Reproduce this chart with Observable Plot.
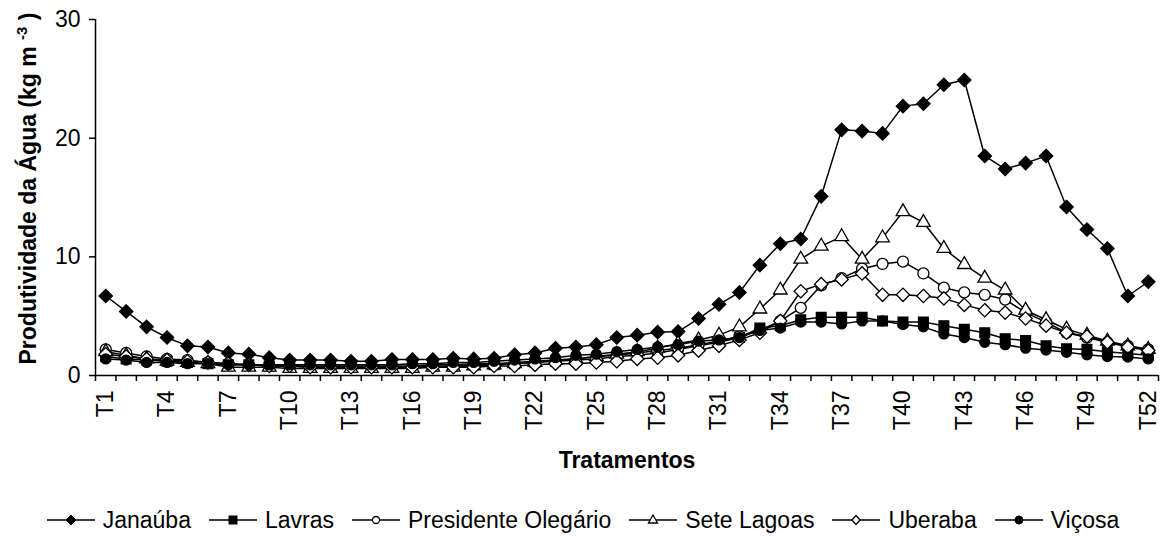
<!DOCTYPE html>
<html>
<head>
<meta charset="utf-8">
<script src="https://cdn.jsdelivr.net/npm/d3@7"></script>
<script src="https://cdn.jsdelivr.net/npm/@observablehq/plot@0.6"></script>
<style>
  html, body { margin: 0; padding: 0; background: #fff; }
  body { width: 1162px; height: 536px; overflow: hidden; font-family: "Liberation Sans", Arial, sans-serif; }
  #legend { display: flex; justify-content: center; align-items: center; height: 30px; margin-top: 15px; padding-left: 4px;
    font-size: 23px; color: #000; white-space: nowrap; }
  .item { display: flex; align-items: center; margin: 0 9px; }
  .item svg { margin-right: 8px; }
</style>
</head>
<body>
<div id="chart"></div>
<div id="legend"></div>
<script>
const categories = ["T1","T2","T3","T4","T5","T6","T7","T8","T9","T10","T11","T12","T13","T14","T15","T16","T17","T18","T19","T20","T21","T22","T23","T24","T25","T26","T27","T28","T29","T30","T31","T32","T33","T34","T35","T36","T37","T38","T39","T40","T41","T42","T43","T44","T45","T46","T47","T48","T49","T50","T51","T52"];
const tickLabels = ["T1","T4","T7","T10","T13","T16","T19","T22","T25","T28","T31","T34","T37","T40","T43","T46","T49","T52"];
const yTicks = [0, 10, 20, 30];

const janauba = [6.7,5.4,4.1,3.2,2.5,2.4,1.9,1.8,1.5,1.3, 1.3,1.3,1.2,1.2,1.35,1.35,1.35,1.45,1.4,1.45, 1.75,1.9,2.3,2.4,2.6,3.2,3.4,3.65,3.7,4.8, 6.0,7.0,9.3,11.1,11.5,15.1,20.7,20.6,20.4,22.7, 22.9,24.5,24.9,18.5,17.4,17.9,18.5,14.2,12.3,10.7, 6.7,7.9];
const lavras = [1.6,1.4,1.3,1.2,1.1,1.0,0.9,0.9,0.8,0.8, 0.7,0.7,0.7,0.7,0.7,0.7,0.8,0.8,0.9,0.9, 1.0,1.1,1.2,1.3,1.4,1.6,1.7,1.9,2.2,2.5, 2.8,3.2,4.0,4.2,4.7,4.9,4.9,4.9,4.6,4.5, 4.5,4.2,3.9,3.6,3.1,2.95,2.5,2.25,2.2,2.0, 1.85,1.7];
const presidenteOlegario = [2.2,1.9,1.6,1.4,1.3,1.1,1.0,0.9,0.9,0.8, 0.8,0.8,0.8,0.8,0.8,0.8,0.9,0.9,1.0,1.0, 1.1,1.2,1.3,1.4,1.6,1.7,1.9,2.1,2.3,2.6, 2.9,3.3,3.8,4.6,5.7,7.6,8.2,9.0,9.4,9.6, 8.6,7.4,7.0,6.8,6.4,5.3,4.5,3.6,3.2,2.8, 2.5,2.2];
const seteLagoas = [2.0,1.7,1.4,1.2,1.1,1.0,0.7,0.7,0.7,0.6, 0.6,0.6,0.6,0.6,0.6,0.6,0.7,0.7,0.8,0.9, 1.0,1.1,1.3,1.4,1.6,1.8,2.0,2.3,2.7,3.0, 3.4,4.1,5.6,7.2,9.8,10.9,11.7,9.8,11.6,13.8, 12.9,10.7,9.35,8.2,7.2,5.5,4.7,3.9,3.4,2.9, 2.5,2.2];
const uberaba = [1.8,1.6,1.4,1.3,1.2,1.1,1.0,0.9,0.8,0.8, 0.7,0.7,0.7,0.7,0.7,0.7,0.7,0.7,0.7,0.8, 0.8,0.9,1.0,1.0,1.1,1.2,1.4,1.5,1.7,2.1, 2.5,3.0,3.6,4.6,7.1,7.7,8.1,8.6,6.8,6.8, 6.7,6.5,5.95,5.5,5.3,4.8,4.2,3.6,3.3,2.8, 2.4,2.1];
const vicosa = [1.4,1.3,1.1,1.1,1.0,1.0,0.9,0.9,0.9,0.9, 0.9,0.9,0.9,0.9,0.9,1.0,1.0,1.1,1.1,1.2, 1.3,1.4,1.5,1.7,1.8,2.0,2.2,2.4,2.6,2.9, 3.0,3.2,3.8,4.0,4.5,4.5,4.35,4.6,4.6,4.3, 4.1,3.5,3.2,2.8,2.6,2.3,2.15,1.95,1.75,1.6, 1.55,1.4];

const series = [
  {name: "Janaúba", values: janauba, symbol: "diamond2", fill: "black", r: 6},
  {name: "Lavras", values: lavras, symbol: "square", fill: "black", r: 5.5},
  {name: "Presidente Olegário", values: presidenteOlegario, symbol: "circle", fill: "white", r: 5.5},
  {name: "Sete Lagoas", values: seteLagoas, symbol: "triangle2", fill: "white", r: 6.5},
  {name: "Uberaba", values: uberaba, symbol: "diamond2", fill: "white", r: 6},
  {name: "Viçosa", values: vicosa, symbol: "circle", fill: "black", r: 5}
];

const pos = c => categories.indexOf(c) + 1;
const n = categories.length;
const boundaries = d3.range(0, n + 1).map(k => k + 0.5);

const marks = [];
for (const s of series) {
  const data = categories.map((c, i) => ({cat: c, x: pos(c), y: s.values[i]}));
  marks.push(Plot.line(data, {x: "x", y: "y", stroke: "black", strokeWidth: 1.5}));
  marks.push(Plot.dot(data, {x: "x", y: "y", symbol: () => s.symbol, r: s.r, fill: s.fill, stroke: "black", strokeWidth: 1.3}));
}

const FS = 23;
const chart = Plot.plot({
  width: 1162,
  height: 490,
  marginLeft: 95,
  marginRight: 4,
  marginTop: 19,
  marginBottom: 115,
  style: {fontFamily: "'Liberation Sans', Arial, sans-serif", fontSize: FS + "px", background: "white", color: "black", overflow: "visible"},
  x: {type: "linear", domain: [0.5, n + 0.5]},
  y: {domain: [0, 30]},
  symbol: {type: "identity"},
  marks: [
    Plot.axisY({ticks: yTicks, tickSize: 6, tickPadding: 9, fontSize: FS, label: null, strokeWidth: 1.5}),
    Plot.axisX({ticks: boundaries, tickSize: 6, tickFormat: () => "", label: null, strokeWidth: 1.5}),
    Plot.axisX({ticks: tickLabels.map(pos), tickSize: 0, tickPadding: 15, tickRotate: -90, tickFormat: i => categories[i - 1], fontSize: FS, label: null}),
    Plot.ruleX([0.5], {y1: 0, y2: 30, stroke: "black", strokeWidth: 1.5}),
    Plot.ruleY([0], {x1: 0.5, x2: n + 0.5, stroke: "black", strokeWidth: 1.5}),
    ...marks,
    Plot.text(["Tratamentos"], {frameAnchor: "bottom", text: d => d, dy: 92, fontWeight: "bold", fontSize: FS, textAnchor: "middle"}),
    Plot.text(["Produtividade da Água (kg m -3)"], {frameAnchor: "left", text: d => d, dx: -67, dy: -9, rotate: -90, fontWeight: "bold", fontSize: FS, textAnchor: "middle"})
  ]
});
document.getElementById("chart").appendChild(chart);

// superscript for the unit exponent
for (const t of chart.querySelectorAll("text")) {
  if (t.textContent === "Produtividade da Água (kg m -3)") {
    t.textContent = "Produtividade da Água (kg m ";
    const sup = document.createElementNS("http://www.w3.org/2000/svg", "tspan");
    sup.setAttribute("dy", "-9");
    sup.setAttribute("font-size", "15");
    sup.textContent = "-3";
    const rest = document.createElementNS("http://www.w3.org/2000/svg", "tspan");
    rest.setAttribute("dy", "9");
    rest.textContent = " )";
    t.appendChild(sup);
    t.appendChild(rest);
  }
}

// legend
const legend = document.getElementById("legend");
const symSvg = {
  "Janaúba": '<polygon points="24,5 29,10 24,15 19,10" fill="black" stroke="black"/>',
  "Lavras": '<rect x="20" y="6" width="8" height="8" fill="black" stroke="black"/>',
  "Presidente Olegário": '<circle cx="24" cy="10" r="3.5" fill="white" stroke="black" stroke-width="1.3"/>',
  "Sete Lagoas": '<polygon points="24,5 28.5,13 19.5,13" fill="white" stroke="black" stroke-width="1.3"/>',
  "Uberaba": '<polygon points="24,5.5 28,10 24,14.5 20,10" fill="white" stroke="black" stroke-width="1.3"/>',
  "Viçosa": '<circle cx="24" cy="10" r="4" fill="black" stroke="black"/>'
};
for (const s of series) {
  const item = document.createElement("div");
  item.className = "item";
  item.innerHTML = '<svg width="48" height="20"><line x1="0" x2="48" y1="10" y2="10" stroke="black" stroke-width="1.5"/>' + symSvg[s.name] + '</svg><span>' + s.name + '</span>';
  legend.appendChild(item);
}
</script>
</body>
</html>
